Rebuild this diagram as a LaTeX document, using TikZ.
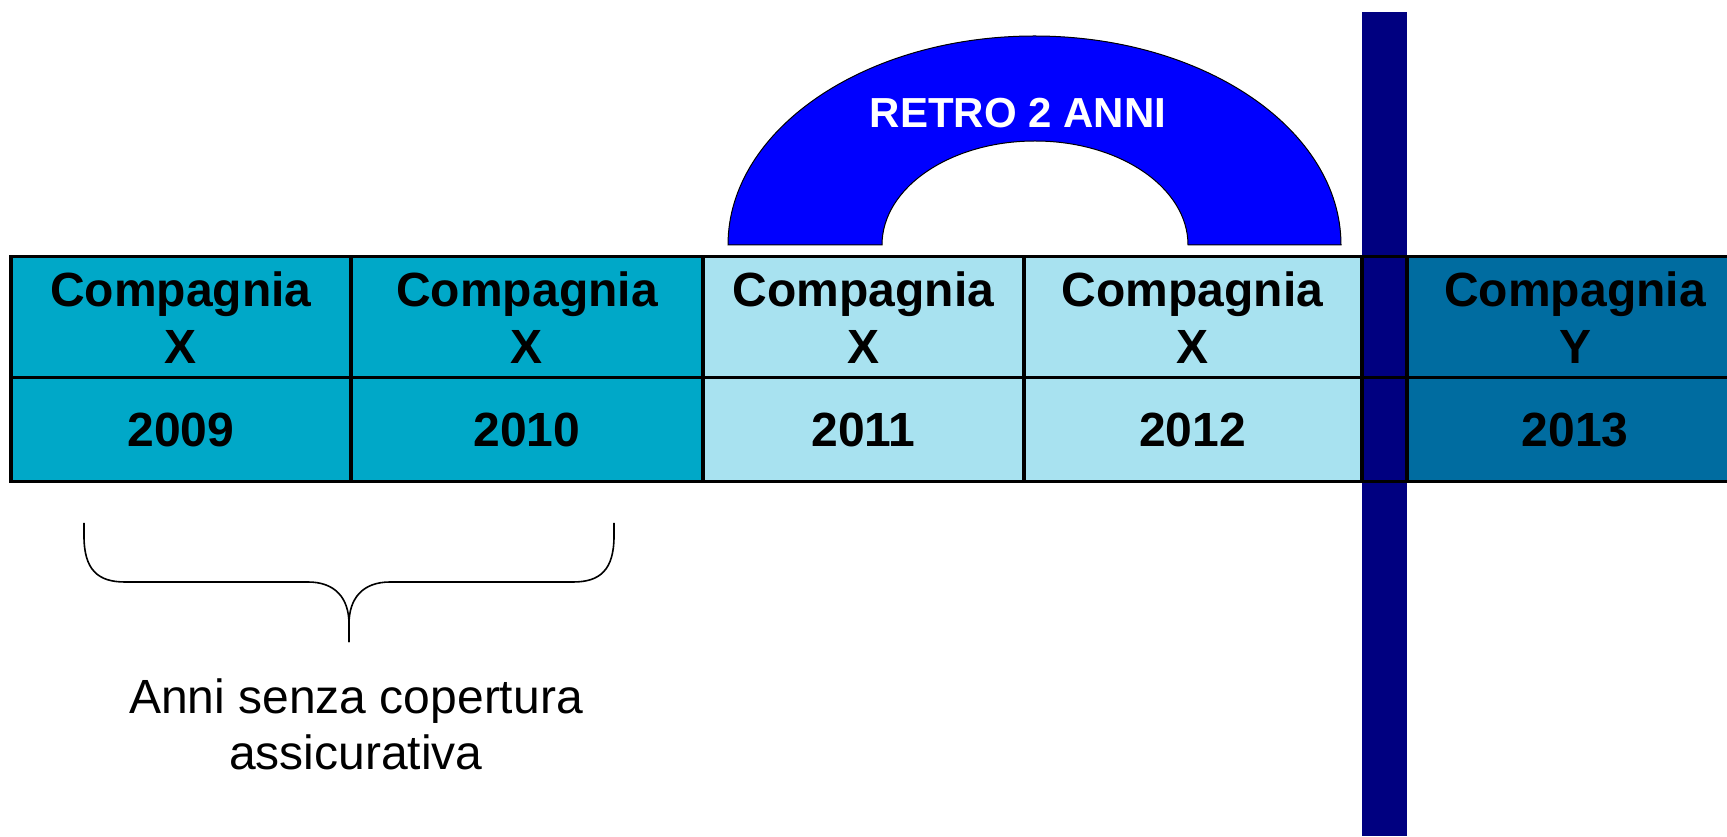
\documentclass[tikz,border=0pt]{standalone}
\usepackage{fontspec}
\setmainfont{Liberation Sans}
\definecolor{tealA}{HTML}{00A8C8}
\definecolor{lightA}{HTML}{A8E2F0}
\definecolor{deepA}{HTML}{006CA0}
\definecolor{navyA}{HTML}{000080}
\definecolor{archA}{HTML}{0000FF}
\begin{document}
\begin{tikzpicture}[x=1pt,y=1pt,
  gridline/.style={line width=3.2pt, line cap=rect},
  celltext/.style={font=\fontsize{48}{57}\selectfont\bfseries, align=center, inner sep=0pt, text=black},
  archtext/.style={font=\fontsize{42}{50}\selectfont\bfseries, inner sep=0pt, text=white},
  notetext/.style={font=\fontsize{48}{56}\selectfont, align=center, inner sep=0pt},
  bracestyle/.style={line width=1.6pt, line join=round}]
\useasboundingbox (0,0) rectangle (1727,836);
% cell fills
\fill[tealA] (11,354.7) rectangle (703,579.4);
\fill[lightA] (703,354.7) rectangle (1362,579.4);
\fill[deepA] (1407,354.7) rectangle (1740,579.4);
% vertical bar
\fill[navyA] (1362,0) rectangle (1407,824);
% grid
\draw[gridline] (1740,579.4) -- (11,579.4) -- (11,354.7) -- (1740,354.7);
\draw[gridline] (11,458.2) -- (1740,458.2);
\foreach \cx in {351,703,1024,1362,1407}
  \draw[gridline] (\cx,579.4) -- (\cx,354.7);
% arch
\draw[fill=archA, line width=1pt] (728,591) arc[start angle=180, end angle=0, x radius=306.5pt, y radius=209pt]
  -- (1188,591) arc[start angle=0, end angle=180, x radius=153pt, y radius=104pt] -- cycle;
\node[archtext] (retro) at (1018,723) {RETRO 2 ANNI};
% cell texts
\node[celltext] (c1) at (181,518) {Compagnia\\X};
\node[celltext] (c2) at (527,518) {Compagnia\\X};
\node[celltext] (c3) at (863.5,518) {Compagnia\\X};
\node[celltext] (c4) at (1192.5,518) {Compagnia\\X};
\node[celltext] (c5) at (1575,518) {Compagnia\\Y};
\node[celltext] (y1) at (181,406) {2009};
\node[celltext] (y2) at (527,406) {2010};
\node[celltext] (y3) at (863.5,406) {2011};
\node[celltext] (y4) at (1192.5,406) {2012};
\node[celltext] (y5) at (1575,406) {2013};
% brace
\coordinate (bl) at (84,313);
\coordinate (br) at (614,313);
\coordinate (tip) at (349,194);
\draw[bracestyle] (bl) -- (84,300) .. controls (84,266) and (98,254) .. (125,254) -- (308,254)
  .. controls (335,254) and (349,238) .. (349,212) -- (tip);
\draw[bracestyle] (br) -- (614,300) .. controls (614,266) and (600,254) .. (573,254) -- (390,254)
  .. controls (363,254) and (349,238) .. (349,212) -- (tip);
\node[notetext] (note) at (356,112) {Anni senza copertura\\assicurativa};
\end{tikzpicture}
\end{document}
